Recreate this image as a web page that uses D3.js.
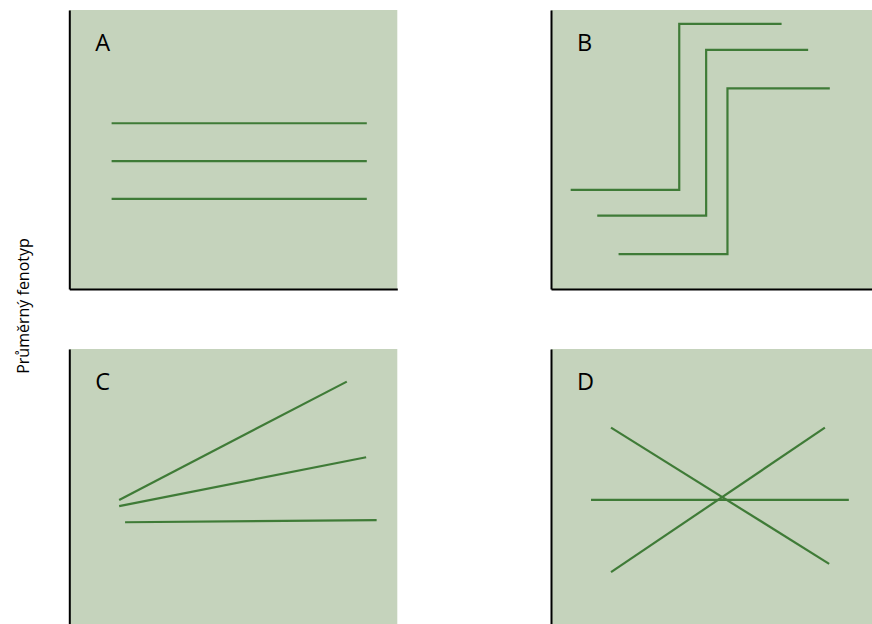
<!DOCTYPE html>
<html>
<head>
<meta charset="utf-8">
<script src="https://cdn.jsdelivr.net/npm/d3@7"></script>
<style>
  html, body { margin: 0; padding: 0; background: #ffffff; }
  svg { display: block; }
  text { font-family: "Open Sans", "Noto Sans", sans-serif; fill: #000; }
</style>
</head>
<body>
<svg id="chart" width="872" height="624"></svg>
<script>
// ---- data (abstract units, 0–10 on both axes) ----
const panelLabels = ["A", "B", "C", "D"];
const yAxisTitle = "Průměrný fenotyp";

// Panel A: parallel flat lines
const seriesA = [
  [[1.29, 5.94], [9.07, 5.94]],
  [[1.29, 4.58], [9.07, 4.58]],
  [[1.29, 3.23], [9.07, 3.23]]
];
// Panel B: step functions (start, step, end)
const seriesB = [
  [[0.60, 3.55], [3.91, 9.50], [7.03, 9.50]],
  [[1.41, 2.63], [4.73, 8.57], [7.84, 8.57]],
  [[2.06, 1.25], [5.38, 7.19], [8.50, 7.19]]
];
// Panel C: diverging lines
const seriesC = [
  [[1.52, 4.59], [8.46, 8.83]],
  [[1.52, 4.37], [9.05, 6.12]],
  [[1.70, 3.79], [9.37, 3.87]]
];
// Panel D: crossing lines
const seriesD = [
  [[1.22, 4.59], [9.08, 4.59]],
  [[1.83, 7.18], [8.48, 2.30]],
  [[1.83, 2.00], [8.35, 7.18]]
];
const allSeries = [seriesA, seriesB, seriesC, seriesD];

// ---- layout ----
const svg = d3.select("#chart");
const panelW = 328, panelH = 279;
const origins = [[69.3, 10], [551, 10], [69.3, 349], [551, 349]];
const bg = "#c5d3bc";
const lineColor = "#3f7b37";

svg.append("text")
  .attr("transform", "translate(29,306) rotate(-90)")
  .attr("text-anchor", "middle")
  .attr("font-size", 16)
  .text(yAxisTitle);

allSeries.forEach((series, i) => {
  const [ox, oy] = origins[i];
  const g = svg.append("g").attr("transform", `translate(${ox},${oy})`);
  const x = d3.scaleLinear().domain([0, 10]).range([0, panelW]);
  const y = d3.scaleLinear().domain([0, 10]).range([panelH, 0]);

  g.append("rect")
    .attr("x", 0).attr("y", 0)
    .attr("width", panelW).attr("height", panelH)
    .attr("fill", bg);

  const line = d3.line()
    .x(d => x(d[0])).y(d => y(d[1]))
    .curve(i === 1 ? d3.curveStepAfter : d3.curveLinear);

  g.selectAll("path.series")
    .data(series)
    .join("path")
    .attr("class", "series")
    .attr("d", line)
    .attr("fill", "none")
    .attr("stroke", lineColor)
    .attr("stroke-width", 2.2)
    .attr("stroke-linejoin", "miter");

  const yAxis = d3.axisLeft(y).ticks(0).tickSize(0).tickSizeOuter(0);
  const xAxis = d3.axisBottom(x).ticks(0).tickSize(0).tickSizeOuter(0);
  const ya = g.append("g").call(yAxis);
  const xa = g.append("g").attr("transform", `translate(0,${panelH})`).call(xAxis);
  [ya, xa].forEach(a => {
    a.selectAll("text").remove();
    a.select(".domain").attr("stroke", "#000").attr("stroke-width", 2);
  });

  g.append("text")
    .attr("x", 26).attr("y", 40.5)
    .attr("font-size", 23.5)
    .text(panelLabels[i]);
});
</script>
</body>
</html>
